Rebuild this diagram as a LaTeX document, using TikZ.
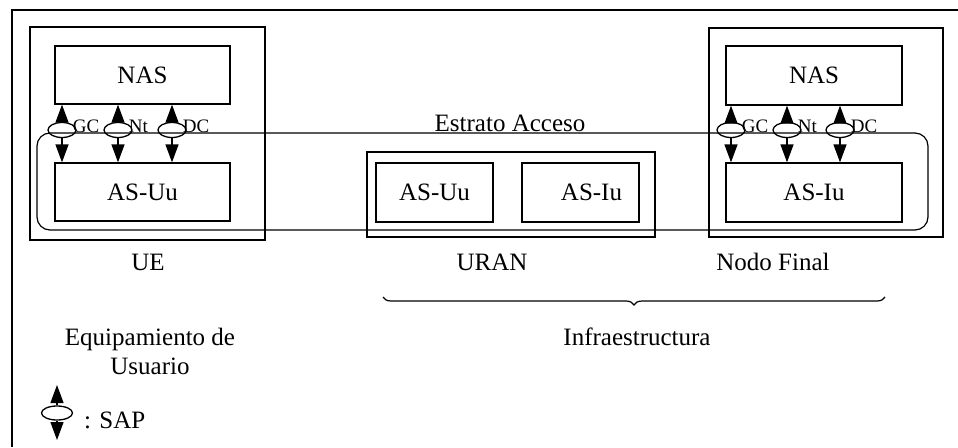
\documentclass[tikz,border=0pt]{standalone}
\usepackage{fontspec}
\setmainfont{Liberation Serif}
\usetikzlibrary{arrows.meta,decorations.pathreplacing,shapes.geometric}
\begin{document}
\begin{tikzpicture}[x=1pt,y=-1pt,
  lw/.style={line width=1.3pt},
  box/.style={draw,lw,inner sep=0pt,font=\fontsize{25}{29}\selectfont},
  lbl/.style={inner sep=0pt,font=\fontsize{25}{29}\selectfont,align=center},
  sap/.style={draw,ellipse,line width=1.3pt,minimum width=28pt,minimum height=15pt,inner sep=0pt},
  sapar/.style={line width=1.3pt,-{Triangle[length=18pt,width=13pt]}},
  saplbl/.style={inner sep=0pt,anchor=west,font=\fontsize{19}{19}\selectfont}
]
\useasboundingbox (0,0) rectangle (958,447);
\fill[white] (0,0) rectangle (958,447);
% outer frame (cropped)
\draw[lw] (12,447) -- (12,10) -- (958,10);

% UE
\node[box,minimum width=235pt,minimum height=213pt] (ue) at (147.5,133.5) {};
\node[box,minimum width=175pt,minimum height=58pt] (nas1) at (142.5,75) {NAS};
\node[box,minimum width=175pt,minimum height=58pt] (as1) at (142.5,192) {AS-Uu};

% URAN
\node[box,minimum width=288pt,minimum height=85pt] (uran) at (511,194.5) {};
\node[box,minimum width=117pt,minimum height=59pt] (asuu) at (434.5,192.5) {AS-Uu};
\node[box,minimum width=117pt,minimum height=59pt] (asiu) at (580.5,192.5) {\hspace*{22pt}AS-Iu};

% Nodo Final
\node[box,minimum width=234pt,minimum height=209pt] (nf) at (826,132.5) {};
\node[box,minimum width=176pt,minimum height=59pt] (nas2) at (814,75.5) {NAS};
\node[box,minimum width=176pt,minimum height=59pt] (as2) at (814,192.5) {AS-Iu};

% Access stratum
\node[draw,line width=1.2pt,rounded corners=13pt,minimum width=891pt,minimum height=97pt,inner sep=0pt] (strat) at (482.5,181.5) {};
\node[lbl] (stlbl) at (510,123) {Estrato Acceso};

% SAPs UE
\foreach \n/\x/\t in {u1/62/GC,u2/118/Nt,u3/172/DC}{
  \node[sap] (\n) at (\x,130) {};
  \node[saplbl] (\n l) at ([xshift=-4pt,yshift=4pt]\n.east) {\t};
  \draw[sapar] (\n.north) -- (\n.north |- nas1.south);
  \draw[sapar] (\n.south) -- (\n.south |- as1.north);
}
% SAPs Nodo Final
\foreach \n/\x/\t in {f1/731/GC,f2/787/Nt,f3/840/DC}{
  \node[sap] (\n) at (\x,130) {};
  \node[saplbl] (\n l) at ([xshift=-4pt,yshift=4pt]\n.east) {\t};
  \draw[sapar] (\n.north) -- (\n.north |- nas2.south);
  \draw[sapar] (\n.south) -- (\n.south |- as2.north);
}

% labels
\node[lbl] (uelbl) at (148,262) {UE};
\node[lbl] (uranlbl) at (492,262) {URAN};
\node[lbl] (nflbl) at (773,262) {Nodo Final};
\node[lbl] (equ) at (150,351) {Equipamiento de\\Usuario};
\node[lbl] (infra) at (637,337) {Infraestructura};

% brace
\coordinate (bl) at (383,297);
\coordinate (br) at (885,297);
\draw[line width=1.2pt,decorate,decoration={brace,mirror,amplitude=8pt}] (bl) -- (br);

% legend
\node[sap,minimum width=31pt,minimum height=14pt] (leg) at (57,413) {};
\coordinate (legtop) at (57,385);
\coordinate (legbot) at (57,440);
\draw[sapar] (leg.north) -- (legtop);
\draw[sapar] (leg.south) -- (legbot);
\node[lbl,anchor=west] (saplg) at (84,420) {: SAP};
\end{tikzpicture}
\end{document}
